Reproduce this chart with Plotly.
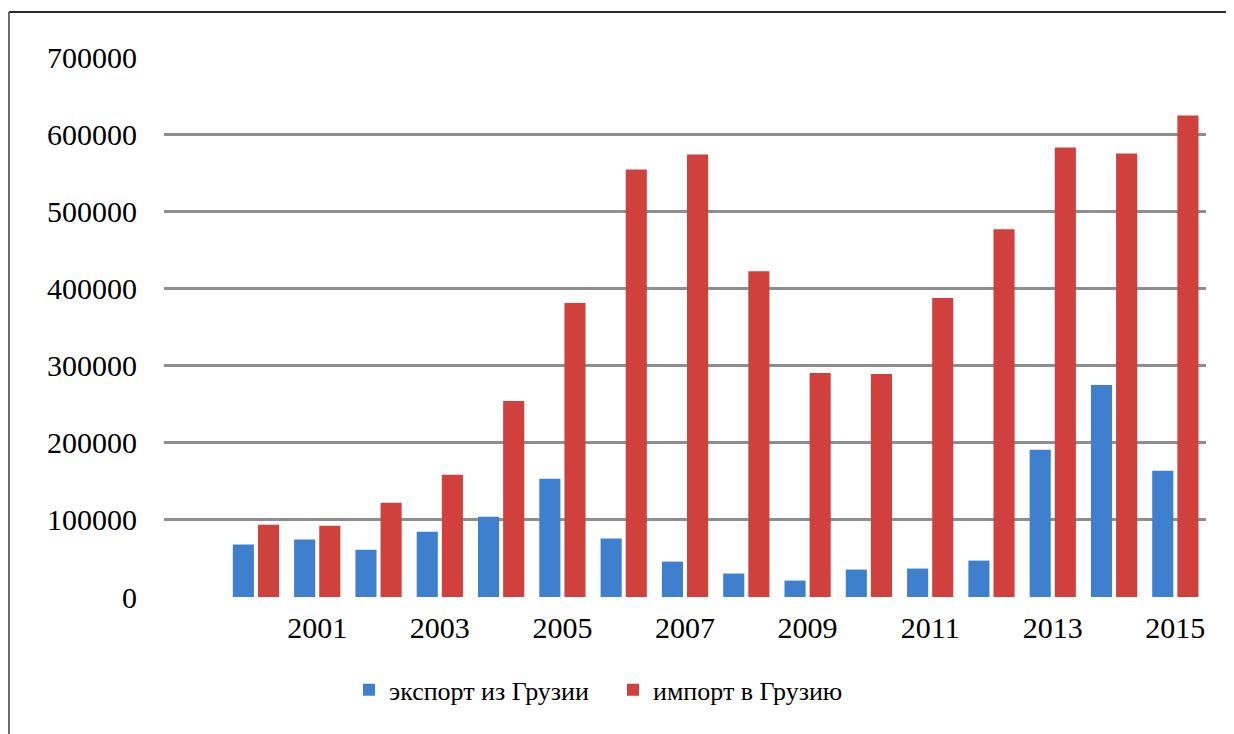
import plotly.graph_objects as go

categories = [" ", "2000", "2001", "2002", "2003", "2004", "2005", "2006", "2007",
              "2008", "2009", "2010", "2011", "2012", "2013", "2014", "2015"]
years = categories[1:]
export_vals = [67900, 74400, 61400, 84700, 104100, 153300, 75700, 45900,
               30400, 21300, 35600, 36900, 47200, 190800, 274900, 163600]
import_vals = [93800, 92500, 122200, 158500, 254200, 381000, 554300, 573700,
               422400, 290400, 289100, 387500, 476700, 582800, 575000, 624200]
x_tick_labels = ["2001", "2003", "2005", "2007", "2009", "2011", "2013", "2015"]
y_tick_vals = [0, 100000, 200000, 300000, 400000, 500000, 600000, 700000]

FONT = "Liberation Serif"
OFF = 8  # page body margin in the browser

fig = go.Figure()
fig.add_trace(go.Bar(x=years, y=export_vals, name="экспорт из Грузии",
                     marker=dict(color="#3E80CD", line=dict(width=0))))
fig.add_trace(go.Bar(x=years, y=import_vals, name="импорт в Грузию",
                     marker=dict(color="#D0413E", line=dict(width=0))))

W, H = 1234 - OFF, 734 - OFF
L, R, T, B = 164 - OFF, 28, 56.5 - OFF, 137
pw = W - L - R
ph = H - T - B

def px_x(x):
    return (x - OFF - L) / pw

def px_y(y):
    return (H - B - (y - OFF)) / ph

fig.update_layout(
    width=W, height=H,
    margin=dict(l=L, r=R, t=T, b=B, autoexpand=False),
    paper_bgcolor="white", plot_bgcolor="white",
    barmode="group", bargap=0.18, bargroupgap=0.16,
    font=dict(family=FONT, size=30, color="#000000"),
    showlegend=True,
    legend=dict(orientation="h", x=px_x(349), xanchor="left",
                y=px_y(690), yanchor="middle",
                font=dict(family=FONT, size=26, color="#000000"),
                bgcolor="rgba(0,0,0,0)", itemwidth=30,
                entrywidth=219, entrywidthmode="pixels",
                traceorder="normal"),
    xaxis=dict(type="category", categoryorder="array", categoryarray=categories,
               range=[-0.5, len(categories) - 0.5],
               tickmode="array", tickvals=x_tick_labels, ticktext=x_tick_labels,
               showgrid=False, showline=False, zeroline=False, ticks="",
               ticklabelstandoff=10,
               tickfont=dict(family=FONT, size=30, color="#000000")),
    yaxis=dict(range=[0, 700000], tickmode="array", tickvals=y_tick_vals,
               ticktext=[str(v) for v in y_tick_vals],
               showgrid=True, gridcolor="#8E8E8E", gridwidth=2.5,
               zeroline=True, zerolinecolor="white", zerolinewidth=3,
               showline=False, ticks="", ticklabelstandoff=26,
               tickfont=dict(family=FONT, size=30, color="#000000")),
)

# outer chart border (left and top edges visible in frame)
fig.add_shape(type="line", xref="paper", yref="paper",
              x0=px_x(9), x1=px_x(1240), y0=px_y(11.5), y1=px_y(11.5),
              line=dict(color="#2A2A2A", width=2))
fig.add_shape(type="line", xref="paper", yref="paper",
              x0=px_x(9), x1=px_x(9), y0=px_y(11.5), y1=px_y(740),
              line=dict(color="#3A3A3A", width=1.5))

fig.write_html("out.html")
